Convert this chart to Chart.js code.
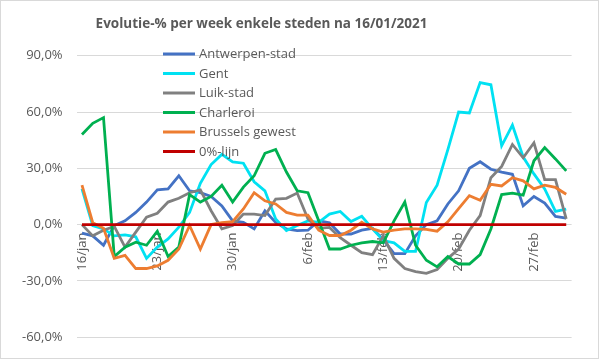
<!DOCTYPE html>
<html><head><meta charset="utf-8">
<script src="https://cdn.jsdelivr.net/npm/chart.js@4"></script>
<style>html,body{margin:0;padding:0;background:#fff;overflow:hidden}canvas{display:block}</style>
</head><body>
<canvas id="c" width="599" height="359"></canvas>
<script>
const chartTitle = 'Evolutie-% per week enkele steden na 16/01/2021';
const dates = ['16/jan','17/jan','18/jan','19/jan','20/jan','21/jan','22/jan','23/jan','24/jan','25/jan','26/jan','27/jan','28/jan','29/jan','30/jan','31/jan',
  '1/feb','2/feb','3/feb','4/feb','5/feb','6/feb','7/feb','8/feb','9/feb','10/feb','11/feb','12/feb','13/feb','14/feb','15/feb','16/feb','17/feb','18/feb','19/feb','20/feb','21/feb','22/feb','23/feb','24/feb','25/feb','26/feb','27/feb','28/feb',
  '1/mar','2/mar'];
const tickEvery = 7;
const seriesNames = ['Antwerpen-stad','Gent','Luik-stad','Charleroi','Brussels gewest','0%-lijn'];
const antwerpen = [-4.5,-6,-11,-0.5,2,6.5,12,18.5,19,26,18,17,15,10,2,1.2,-2.3,7.4,1.2,-2.3,-3.2,-3,2,1,-5,-5,-3,-2,-8,-15.5,-15.5,-6,0,2,11,18,30,33.5,29.5,28,26.8,10,15,11.5,4.4,3.5];
const gent = [19,-0.5,-2.3,-6,-5.5,-6.5,-18,-12,-7.6,-1.4,6.5,22,32,37.4,33.4,32.7,22.8,18,3,-3.2,-0.5,2,1.2,5.6,7,1.6,4.4,-2.3,-8.5,-9.7,-14.3,-14.3,11.8,21,40,60,59.5,75.7,74.5,42,53,36,27,19,7,8.3];
const luik = [0,-6,-3,-1,-12,-4,4,6,12,14,17,18.5,7.4,-2.3,-0.5,5.6,5.6,4.8,13.6,14,16.8,3,-2,-1.5,-7,-11,-15,-16,-6,-18,-23.4,-25,-26,-24,-18,-13,-3,4.8,25,31,42.7,35.6,43.6,24,24,3];
const charleroi = [48,54,57,-17,-12,-9.4,-11,-3.5,-17,-12,16,12,15,21,12,20,26,38,40,28,18,17,2,-13,-13,-11,-9.7,-9,-9.7,2,12,-11,-19,-22.5,-17,-21,-21,-16,-2.3,16,16.8,15.7,34,41,35,28.6];
const brussels = [21,1,-2,-18,-16.4,-23.4,-23.4,-22,-19,-13,-0.5,-13,0,1,1.6,8.3,17,12.7,11,6.5,5,5,-3,-5.8,-5.8,-3,1.3,-2.3,-4,-3,-2.3,-2.3,-2.5,-3.5,1.5,8.5,15.4,13,21.5,20.6,25,23.3,19,21,19.8,16.2];
const zeroLine = [0,0,0,0,0,0,0,0,0,0,0,0,0,0,0,0,0,0,0,0,0,0,0,0,0,0,0,0,0,0,0,0,0,0,0,0,0,0,0,0,0,0,0,0,0,0];
const yMin = -60, yMax = 90, yStep = 30;
const colors = ['#4472C4','#00E1F2','#808080','#00B050','#ED7D31','#C00000'];
const seriesData = [antwerpen, gent, luik, charleroi, brussels, zeroLine];

Chart.defaults.font.family = '"Open Sans", "Noto Sans", sans-serif';
Chart.defaults.color = '#595959';

const decor = {
  id: 'decor',
  beforeDraw(chart) {
    const ctx = chart.ctx;
    ctx.save();
    ctx.fillStyle = '#ffffff';
    ctx.fillRect(0, 0, chart.width, chart.height);
    ctx.strokeStyle = '#D9D9D9';
    ctx.lineWidth = 1;
    ctx.strokeRect(0.5, 0.5, chart.width - 1, chart.height - 1);
    ctx.fillStyle = '#595959';
    ctx.font = 'bold 13.5px "Open Sans"';
    ctx.textAlign = 'center';
    ctx.textBaseline = 'middle';
    ctx.fillText(chartTitle, 261.5, 24);
    ctx.restore();
  },
  afterDatasetsDraw(chart) {
    const ctx = chart.ctx;
    ctx.save();
    ctx.font = '13px "Open Sans"';
    ctx.textAlign = 'left';
    ctx.textBaseline = 'middle';
    chart.data.datasets.forEach((ds, i) => {
      const y = 54 + i * 19.5;
      ctx.strokeStyle = ds.borderColor;
      ctx.lineWidth = 3;
      ctx.beginPath();
      ctx.moveTo(163, y);
      ctx.lineTo(195, y);
      ctx.stroke();
      ctx.fillStyle = '#595959';
      ctx.fillText(ds.label, 199, y + 0.5);
    });
    ctx.restore();
  }
};

new Chart(document.getElementById('c'), {
  type: 'line',
  data: {
    labels: dates,
    datasets: seriesNames.map((name, k) => ({
      label: name,
      data: seriesData[k],
      borderColor: colors[k],
      backgroundColor: colors[k],
      borderWidth: 2.8,
      pointRadius: 0,
      tension: 0,
      fill: false,
      order: seriesNames.length - k
    }))
  },
  options: {
    responsive: false,
    animation: false,
    devicePixelRatio: 1,
    layout: { padding: { left: 0, top: 55.7, right: 27.4, bottom: 20 } },
    plugins: { legend: { display: false }, tooltip: { enabled: false }, title: { display: false } },
    scales: {
      x: {
        type: 'category',
        position: { y: 0 },
        offset: true,
        grid: { display: false, drawTicks: false },
        border: { display: false },
        ticks: {
          autoSkip: false, minRotation: 90, maxRotation: 90, padding: 8,
          font: { size: 13 }, color: '#595959',
          callback: (v, i) => (i % tickEvery === 0 ? dates[i] : null)
        }
      },
      y: {
        min: yMin, max: yMax,
        ticks: {
          stepSize: yStep, padding: 14, font: { size: 13 }, color: '#595959',
          callback: v => v.toFixed(1).replace('.', ',') + '%'
        },
        grid: { color: '#D9D9D9', drawTicks: false },
        border: { display: false },
        afterFit(s) { s.width = 76.6; }
      }
    }
  },
  plugins: [decor]
});
</script>
</body></html>
